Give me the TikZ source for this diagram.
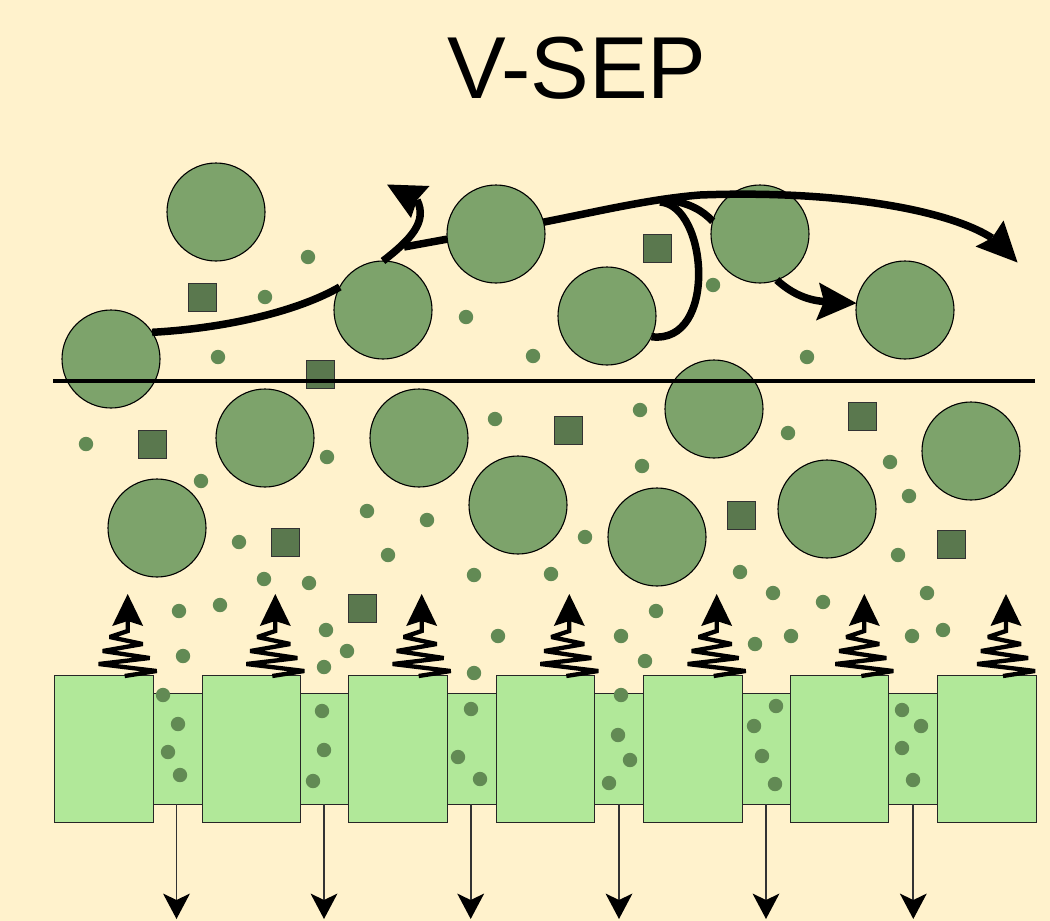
\documentclass[tikz,border=0pt]{standalone}
\usepackage{fontspec}
\setmainfont{Liberation Sans}

\definecolor{paper}{HTML}{FFF2CC}
\definecolor{bigfill}{HTML}{7DA36B}
\definecolor{dotfill}{HTML}{628A54}
\definecolor{sqfill}{HTML}{5A784E}
\definecolor{membrane}{HTML}{B1E899}

\begin{document}
\begin{tikzpicture}[x=1pt,y=-1pt,
  particle/.style={circle,draw=black,line width=1.1pt,fill=bigfill,
    minimum size=98pt,inner sep=0pt,outer sep=0pt},
  blockbox/.style={rectangle,draw=black!85,line width=1.1pt,fill=membrane,
    minimum width=98.5pt,minimum height=147pt,inner sep=0pt,anchor=north west},
  bandbox/.style={rectangle,draw=black!85,line width=1.1pt,fill=membrane,
    minimum width=890pt,minimum height=111pt,inner sep=0pt,anchor=north west},
  fine/.style={fill=dotfill},
  solute/.style={draw=black!80,line width=1pt,fill=sqfill},
  flow/.style={line width=7.5pt,line join=round},
  head/.style={fill=black},
  coil/.style={line width=4.3pt,line join=miter,miter limit=3},
  drain/.style={line width=1.8pt,draw=black!80},
]
\useasboundingbox (0,0) rectangle (1050,921);
\fill[paper] (0,0) rectangle (1050,921);

% title
\node[font=\fontsize{88}{100}\selectfont,anchor=base,inner sep=0pt] (title) at (577,98) {V-SEP};

% membrane: pore band and support blocks
\node[bandbox] (band) at (100,693) {};
\foreach \bx [count=\i] in {54,201.7,348,495.7,643.3,789.7,937.3}
  \node[blockbox] (blk\i) at (\bx,675) {};

% permeate leaving through the pores
\foreach \gx [count=\i] in {176.5,324,470.7,619,766,913.3} {
  \coordinate (pin\i) at (\gx,804);
  \coordinate (pout\i) at (\gx,900);
  \draw[drain] (pin\i) -- (pout\i);
  \fill[head] (\gx,919) -- ({\gx-13.5},893.5) -- (pout\i) -- ({\gx+13.5},893.5) -- cycle;
}

% fine particles
\foreach \px/\py in {308/257,265/297,218/357,466/317,533/356,713/285,807/357,
  640/410,495/419,86/444,327/457,201/481,367/511,427/520,239/542,388/555,
  474/575,264/579,309/583,179/611,220/605,326/630,347/651,183/656,324/667,
  498/636,474/673,788/433,642/466,890/462,909/496,585/537,551/574,740/572,
  898/555,773/593,823/602,927/593,656/611,621/636,645/661,755/644,791/636,
  912/636,943/630,
  163/695,178/724,168/752,180/775,
  322/711,324/750,313/781,
  471/709,458/757,480/779,
  621/695,618/735,630/760,609/783,
  776/706,754/726,762/756,775/784,
  902/710,921/726,902/748,913/780}
  \fill[fine] (\px,\py) circle (7.2pt);

% dissolved solids
\foreach \qx/\qy in {202/297,320/374,657/248,152.5/444,285.5/542,362/608,
  568/430,741/515,862/416.5,951/544}
  \draw[solute] ({\qx-14},{\qy-14}) rectangle ({\qx+14},{\qy+14});

% large particles
\node[particle] (c1) at (216,212) {};
\node[particle] (c2) at (111,359) {};
\node[particle] (c3) at (383,310) {};
\node[particle] (c4) at (496,234) {};
\node[particle] (c5) at (607,316) {};
\node[particle] (c6) at (760,234) {};
\node[particle] (c7) at (905,310) {};
\node[particle] (c8) at (714,409) {};
\node[particle] (c9) at (265,438) {};
\node[particle] (c10) at (419,438) {};
\node[particle] (c11) at (157,528) {};
\node[particle] (c12) at (518,505) {};
\node[particle] (c13) at (657,537) {};
\node[particle] (c14) at (827,509) {};
\node[particle] (c15) at (971,451) {};

% boundary layer edge
\coordinate (edgeL) at (53,381);
\coordinate (edgeR) at (1035,381);
\draw[line width=3.5pt] (edgeL) -- (edgeR);

% tangential flow paths
\coordinate (upnotch) at (417,200);
\coordinate (fork) at (404,247);
\coordinate (bend) at (700,195);
\coordinate (bignotch) at (992,238);
\coordinate (loopstart) at (660,202);
\coordinate (sidestart) at (668,200);
\coordinate (sidenotch) at (824,301.5);

\draw[flow] (c2.33) .. controls (230,328) and (300,310) .. (c3.152);
\draw[flow] (c3.90) .. controls (410,240) and (428,222) .. (upnotch);
\fill[head] (387,184.5) -- (429.5,186) -- (upnotch) -- (411,218) -- cycle;
\draw[flow] (fork) -- (c4.186);
\draw[flow] (c4.14) .. controls (600,211) and (650,199) .. (bend)
  .. controls (830,190) and (945,208) .. (bignotch);
\fill[head] (1017.5,262.5) -- (975.5,246.5) -- (bignotch) -- (1003.5,220.5) -- cycle;
\draw[flow] (loopstart) .. controls (708,205) and (718,345) .. (c5.-25);
\draw[flow] (sidestart) .. controls (690,203) and (703,211) .. (c6.165);
\draw[flow] (c6.-70) .. controls (790,292) and (805,300) .. (sidenotch);
\fill[head] (c7.172) -- (819,282.5) -- (sidenotch) -- (816,320.5) -- cycle;

% vibration springs on the membrane blocks
\foreach \sx [count=\i] in {127.7,275.3,421.7,569.3,716.7,864.3,1006} {
  \coordinate (sbase\i) at ({\sx-3},676);
  \coordinate (stop\i) at (\sx,621);
  \draw[coil] (sbase\i) -- ({\sx+29},671) -- ({\sx-29},664) -- ({\sx+22},658)
    -- ({\sx-25},651) -- ({\sx+15},644) -- ({\sx-18},637) -- (\sx,631) -- (stop\i);
  \fill[head] (\sx,594) -- ({\sx-15.5},626) -- (stop\i) -- ({\sx+15.5},626) -- cycle;
}
\end{tikzpicture}
\end{document}
